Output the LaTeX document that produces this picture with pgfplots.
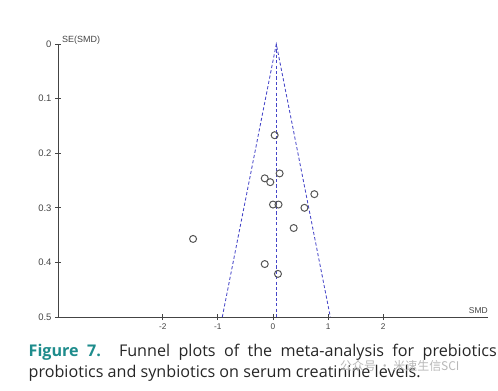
\documentclass[border=0pt]{standalone}
\usepackage{fontspec}
\setmainfont{Open Sans}
\newfontfamily\arial{Liberation Sans}
\newfontfamily\cjk{Noto Sans CJK SC}
\usepackage{pgfplots}
\pgfplotsset{compat=1.18}
\definecolor{funnel}{HTML}{4545C8}
\definecolor{tealcap}{HTML}{1E8C8C}
\definecolor{axgray}{HTML}{444444}
\definecolor{mk}{HTML}{555555}
\begin{document}
\begin{tikzpicture}[x=1bp,y=1bp]
\useasboundingbox (0,0) rectangle (498,-390);
\begin{axis}[
  at={(58bp,-317bp)}, anchor=south west,
  scale only axis, width=430bp, height=273bp,
  xmin=-3.9, xmax=3.9, ymin=0, ymax=0.5,
  y dir=reverse,
  axis x line*=bottom, axis y line*=left,
  axis line style={axgray, line width=1pt},
  every tick/.style={axgray, line width=0.9pt},
  tick align=center, major tick length=6bp,
  xtick={-2,-1,0,1,2}, ytick={0,0.1,0.2,0.3,0.4,0.5},
  /pgf/number format/assume math mode=true,
  xticklabel style={font=\arial\fontsize{8.3}{8.3}\selectfont, text=axgray},
  yticklabel style={font=\arial\fontsize{9.5}{9.5}\selectfont, text=axgray},
  yticklabel={\pgfmathprintnumber[fixed,precision=1]{\tick}},
  clip=false,
]
\addplot[funnel, dash pattern=on 3.2bp off 2.2bp, line width=0.85pt] coordinates {(0.06,0) (0.06,0.5)};
\addplot[funnel, dash pattern=on 3.2bp off 2.2bp, line width=0.85pt] coordinates {(-0.92,0.5) (0.06,0) (1.04,0.5)};
\addplot[only marks, mark=o, mark size=3.5bp, mark options={mk, line width=1pt}] coordinates {
(0.03,0.167) (0.12,0.237) (-0.15,0.246) (-0.05,0.253) (0.75,0.275)
(0.00,0.294) (0.10,0.294) (0.57,0.300) (0.375,0.337) (-1.45,0.357)
(-0.15,0.403) (0.09,0.421)};
\end{axis}
\node[anchor=base west, inner sep=0, font=\arial\fontsize{9}{9}\selectfont, text=axgray] at (62,-42) {SE(SMD)};
\node[anchor=base east, inner sep=0, font=\arial\fontsize{8.5}{8.5}\selectfont, text=axgray] at (488,-313.5) {SMD};
\node[anchor=north west, inner sep=0, text width=468bp, align=justify, font=\fontsize{16.2}{21}\selectfont, text=black!85] at (28.5,-344) {{\color{tealcap}\bfseries Figure 7.} Funnel plots of the meta-analysis for prebiotics\linebreak probiotics and synbiotics on serum creatinine levels.};
\node[anchor=base west, inner sep=0, font=\cjk\fontsize{12}{12}\selectfont, text=black!28] at (340,-370) {公众号 · 米速生信SCI};
\end{tikzpicture}
\end{document}
